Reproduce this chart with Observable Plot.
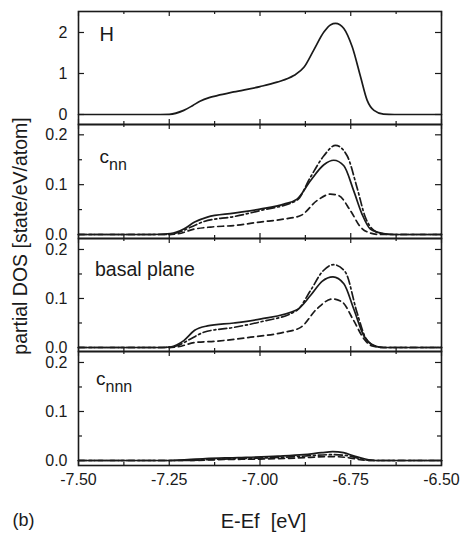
<!DOCTYPE html>
<html>
<head>
<meta charset="utf-8">
<script src="https://cdn.jsdelivr.net/npm/d3@7"></script>
<script src="https://cdn.jsdelivr.net/npm/@observablehq/plot@0.6"></script>
<style>
  html, body { margin: 0; padding: 0; background: #fff; }
  #chart { position: relative; width: 468px; height: 535px; font-family: "Liberation Sans", Arial, sans-serif; color: #1a1a1a; overflow: hidden; }
  .lbl { position: absolute; line-height: 1; white-space: pre; }
  .lbl sub { font-size: 16px; vertical-align: -7px; line-height: 1; }
</style>
</head>
<body>
<div id="chart"></div>
<script>
// ---- data (energy in eV, partial DOS in state/eV/atom) ----
const xMajorTicks = [-7.5, -7.25, -7.0, -6.75, -6.5];
const xMinorTicks = [-7.375, -7.125, -6.875, -6.625];
const panelLabels = ["H", "c", "basal plane", "c"];

const hTotal = [[-7.5,0],[-7.3,0],[-7.25,0.005],[-7.21,0.1],[-7.185,0.22],[-7.164,0.33],[-7.14,0.41],[-7.118,0.46],[-7.072,0.55],[-7.0,0.68],[-6.953,0.79],[-6.907,0.95],[-6.879,1.15],[-6.852,1.57],[-6.824,2.01],[-6.805,2.19],[-6.792,2.22],[-6.78,2.19],[-6.769,2.10],[-6.746,1.65],[-6.723,0.92],[-6.705,0.35],[-6.686,0.1],[-6.66,0.01],[-6.63,0],[-6.5,0]];

const cnnSolid = [[-7.5,0],[-7.3,0],[-7.247,0.002],[-7.21,0.011],[-7.18,0.025],[-7.145,0.035],[-7.072,0.043],[-7.0,0.051],[-6.934,0.061],[-6.898,0.071],[-6.861,0.108],[-6.824,0.14],[-6.797,0.149],[-6.769,0.138],[-6.742,0.088],[-6.719,0.041],[-6.696,0.011],[-6.66,0.002],[-6.63,0],[-6.5,0]];
const cnnDashDot = [[-7.5,0],[-7.26,0],[-7.23,0.003],[-7.19,0.015],[-7.155,0.026],[-7.072,0.036],[-7.0,0.048],[-6.898,0.069],[-6.861,0.115],[-6.824,0.158],[-6.792,0.179],[-6.76,0.158],[-6.733,0.095],[-6.71,0.035],[-6.686,0.008],[-6.66,0.001],[-6.63,0],[-6.5,0]];
const cnnDashed = [[-7.5,0],[-7.26,0],[-7.23,0.001],[-7.18,0.011],[-7.136,0.015],[-7.072,0.018],[-7.0,0.025],[-6.934,0.031],[-6.888,0.038],[-6.843,0.068],[-6.806,0.081],[-6.783,0.078],[-6.751,0.048],[-6.723,0.015],[-6.696,0.003],[-6.67,0],[-6.5,0]];

const basalSolid = [[-7.5,0],[-7.27,0],[-7.247,0.001],[-7.21,0.014],[-7.18,0.035],[-7.145,0.044],[-7.072,0.05],[-7.0,0.058],[-6.898,0.077],[-6.861,0.106],[-6.829,0.135],[-6.799,0.144],[-6.769,0.13],[-6.742,0.079],[-6.714,0.024],[-6.686,0.004],[-6.66,0],[-6.5,0]];
const basalDashDot = [[-7.5,0],[-7.26,0],[-7.23,0.003],[-7.19,0.018],[-7.155,0.031],[-7.072,0.041],[-7.0,0.052],[-6.898,0.076],[-6.861,0.116],[-6.829,0.154],[-6.797,0.169],[-6.765,0.154],[-6.733,0.072],[-6.71,0.021],[-6.686,0.004],[-6.66,0],[-6.5,0]];
const basalDashed = [[-7.5,0],[-7.26,0],[-7.23,0.001],[-7.18,0.01],[-7.118,0.013],[-7.026,0.021],[-6.934,0.031],[-6.888,0.041],[-6.843,0.079],[-6.801,0.099],[-6.774,0.093],[-6.742,0.055],[-6.714,0.018],[-6.691,0.003],[-6.66,0],[-6.5,0]];

const cnnnSolid = [[-7.5,0],[-7.25,0],[-7.15,0.004],[-7.06,0.006],[-6.95,0.009],[-6.88,0.012],[-6.83,0.016],[-6.8,0.018],[-6.77,0.016],[-6.74,0.009],[-6.71,0.003],[-6.68,0],[-6.5,0]];
const cnnnDashDot = [[-7.5,0],[-7.22,0],[-7.1,0.003],[-7.0,0.005],[-6.9,0.008],[-6.8,0.012],[-6.76,0.01],[-6.72,0.003],[-6.69,0],[-6.5,0]];
const cnnnDashed = [[-7.5,0],[-7.2,0],[-7.1,0.002],[-7.0,0.003],[-6.9,0.005],[-6.8,0.008],[-6.75,0.005],[-6.72,0.001],[-6.69,0],[-6.5,0]];

// ---- layout ----
const ink = "#1a1a1a";
const W = 468, ML = 78, MR = 27;
const innerW = W - ML - MR;
const chart = document.getElementById("chart");

const lineStyles = [
  {dash: null},
  {dash: "8,3,2,3"},
  {dash: "6,4"}
];

const hyphenFmt = (spec) => { const f = d3.format(spec); return d => f(d).replace("\u2212", "-"); };

function panel({top, height, domain, yMajor, yMinor, fmt, series, xLabels}) {
  const mb = xLabels ? 30 : 0;
  const marks = [];
  series.forEach((s, i) => {
    marks.push(Plot.line(s, {x: d => d[0], y: d => d[1], stroke: ink, strokeWidth: 1.7,
      strokeDasharray: lineStyles[i].dash, curve: "monotone-x"}));
  });
  // inward ticks
  marks.push(
    Plot.tickX(xMajorTicks, {x: d => d, insetTop: height - 5, stroke: ink, strokeWidth: 1.2}),
    Plot.tickX(xMajorTicks, {x: d => d, insetBottom: height - 5, stroke: ink, strokeWidth: 1.2}),
    Plot.tickX(xMinorTicks, {x: d => d, insetTop: height - 3, stroke: ink, strokeWidth: 1.2}),
    Plot.tickX(xMinorTicks, {x: d => d, insetBottom: height - 3, stroke: ink, strokeWidth: 1.2}),
    Plot.tickY(yMajor, {y: d => d, insetRight: innerW - 6, stroke: ink, strokeWidth: 1.2}),
    Plot.tickY(yMajor, {y: d => d, insetLeft: innerW - 6, stroke: ink, strokeWidth: 1.2}),
    Plot.tickY(yMinor, {y: d => d, insetRight: innerW - 4, stroke: ink, strokeWidth: 1.2}),
    Plot.tickY(yMinor, {y: d => d, insetLeft: innerW - 4, stroke: ink, strokeWidth: 1.2}),
    Plot.frame({stroke: ink, strokeWidth: 1.6}),
    Plot.axisY(yMajor, {tickSize: 0, tickPadding: 11, tickFormat: hyphenFmt(fmt), fontSize: 16, fill: ink, label: null})
  );
  if (xLabels) {
    marks.push(Plot.axisX(xMajorTicks, {tickSize: 0, tickPadding: 8, tickFormat: hyphenFmt(".2f"), fontSize: 16, fill: ink, label: null}));
  }
  const svg = Plot.plot({
    width: W, height: height + mb,
    marginLeft: ML, marginRight: MR, marginTop: 0, marginBottom: mb,
    x: {domain: [-7.5, -6.5], axis: xLabels ? undefined : null},
    y: {domain, axis: null},
    style: {overflow: "visible", background: "transparent", fontFamily: "'Liberation Sans', Arial, sans-serif"},
    marks
  });
  svg.style.position = "absolute";
  svg.style.left = "0px";
  svg.style.top = top + "px";
  svg.style.overflow = "visible";
  chart.appendChild(svg);
}

panel({top: 11, height: 113, domain: [-0.244, 2.512], yMajor: [0, 1, 2], yMinor: [], fmt: "d",
  series: [hTotal]});
panel({top: 124, height: 114, domain: [-0.008, 0.2207], yMajor: [0, 0.1, 0.2], yMinor: [0.05, 0.15], fmt: ".1f",
  series: [cnnSolid, cnnDashDot, cnnDashed]});
panel({top: 238, height: 113, domain: [-0.0082, 0.2224], yMajor: [0, 0.1, 0.2], yMinor: [0.05, 0.15], fmt: ".1f",
  series: [basalSolid, basalDashDot, basalDashed]});
panel({top: 351, height: 114, domain: [-0.0102, 0.2224], yMajor: [0, 0.1, 0.2], yMinor: [0.05, 0.15], fmt: ".1f",
  series: [cnnnSolid, cnnnDashDot, cnnnDashed], xLabels: true});

// ---- text labels ----
function label(html, left, baseline, size, extra) {
  const d = document.createElement("div");
  d.className = "lbl";
  d.innerHTML = html;
  d.style.fontSize = size + "px";
  d.style.left = left + "px";
  d.style.top = (baseline - 0.8465 * size) + "px";
  if (extra) Object.assign(d.style, extra);
  chart.appendChild(d);
  return d;
}
label(panelLabels[0], 99.5, 40.7, 20);
label(panelLabels[1] + "<sub>nn</sub>", 99.5, 163.3, 19);
label(panelLabels[2], 95, 276.5, 19.5);
label(panelLabels[3] + "<sub>nnn</sub>", 96, 385, 19);
label("(b)", 12.5, 526, 18);

// x axis title, centered
const xt = label("E-Ef  [eV]", 263.5, 528, 20);
xt.style.transform = "translateX(-50%)";

// y axis title, rotated
const yt = document.createElement("div");
yt.className = "lbl";
yt.textContent = "partial DOS [state/eV/atom]";
yt.style.fontSize = "19.5px";
yt.style.left = "21px";
yt.style.top = "235.5px";
yt.style.transform = "translate(-50%, -50%) rotate(-90deg)";
chart.appendChild(yt);
</script>
</body>
</html>
